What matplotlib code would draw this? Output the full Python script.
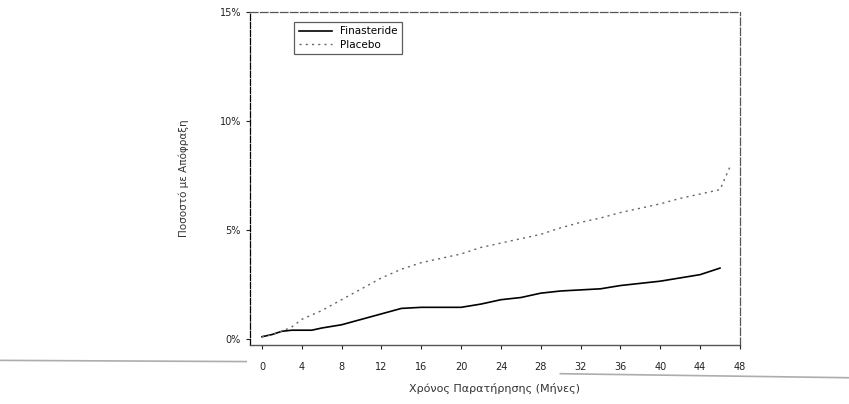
import numpy as np
import matplotlib.pyplot as plt
from matplotlib.lines import Line2D

# values (cumulative %)
months_fin = [0, 1, 2, 3, 5, 6, 8, 10, 12, 14, 16, 18, 20, 22, 24, 26, 28, 30, 32, 34, 36, 38, 40, 42, 44, 46]
finasteride = [0.1, 0.2, 0.35, 0.4, 0.4, 0.5, 0.65, 0.9, 1.15, 1.4, 1.45, 1.45, 1.45, 1.6, 1.8, 1.9, 2.1,
               2.2, 2.25, 2.3, 2.45, 2.55, 2.65, 2.8, 2.95, 3.25]

months_pla = [0, 1, 2, 3, 4, 6, 8, 10, 12, 14, 16, 18, 20, 22, 24, 26, 28, 30, 32, 34, 36, 38, 40, 42, 44, 46, 47]
placebo = [0.1, 0.2, 0.35, 0.55, 0.9, 1.3, 1.8, 2.3, 2.8, 3.2, 3.5, 3.7, 3.9, 4.2, 4.4, 4.6, 4.8,
           5.1, 5.35, 5.55, 5.8, 6.0, 6.2, 6.45, 6.65, 6.85, 7.9]

xticks = np.arange(0, 49, 4)
yticks = [0, 5, 10, 15]
ytick_labels = ['0%', '5%', '10%', '15%']

fig = plt.figure(figsize=(8.49, 4.04), dpi=100)
ax = fig.add_axes([0.2945, 0.146, 0.577, 0.824])

ax.plot(months_fin, finasteride, color='black', lw=1.2, label='Finasteride')
ax.plot(months_pla, placebo, color='#666666', lw=1.0, ls=(0, (1.5, 3)), label='Placebo')

ax.set_xlim(-1.2, 47.9)
ax.set_ylim(-0.28, 15)
ax.set_xticks(xticks)
ax.set_yticks(yticks)
ax.set_yticklabels(ytick_labels)
ax.tick_params(axis='both', labelsize=7, length=3, width=0.8, colors='#222222')
ax.tick_params(axis='x', pad=9)

for s in ['top', 'right']:
    ax.spines[s].set_color('#555555')
    ax.spines[s].set_linewidth(0.9)
    ax.spines[s].set_linestyle((0, (6, 2)))
ax.spines['left'].set_linestyle((0, (5, 1.5)))
ax.spines['left'].set_linewidth(0.9)
ax.spines['bottom'].set_color('#555555')
ax.spines['bottom'].set_linewidth(1.0)

leg = ax.legend(loc='upper left', bbox_to_anchor=(0.08, 0.985), fontsize=7.5, frameon=True,
                fancybox=False, edgecolor='#333333', handlelength=3.2, borderpad=0.4,
                labelspacing=0.3)
leg.get_frame().set_linewidth(0.9)

ax.set_xlabel('Χρόνος Παρατήρησης (Μήνες)', fontsize=8, color='#333333', labelpad=8)
ax.set_ylabel('Ποσοστό με Απόφραξη', fontsize=7.5, color='#333333', labelpad=22)

# scan artefact lines
fig.add_artist(Line2D([0.0, 0.29], [0.108, 0.105], color='#999999', lw=1.2, alpha=0.8))
fig.add_artist(Line2D([0.66, 1.0], [0.075, 0.065], color='#999999', lw=1.2, alpha=0.8))

fig.savefig('out.png', dpi=100)
